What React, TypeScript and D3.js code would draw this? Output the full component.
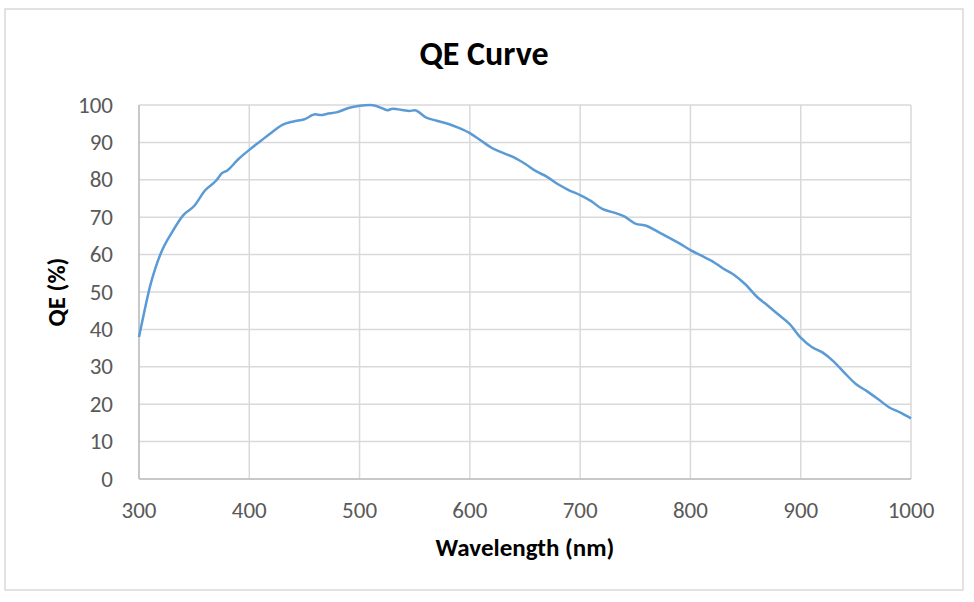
import React from "react";
import * as d3 from "d3";

const wavelengths = [300,305,310,315,320,330,340,350,360,370,375,380,390,400,410,420,430,440,450,460,465,470,480,490,500,510,520,525,530,540,545,550,560,570,580,590,600,610,620,630,640,650,660,670,680,690,700,710,720,730,740,750,760,770,780,790,800,810,820,830,840,850,860,870,880,890,900,910,920,930,940,950,960,970,980,990,1000];
const qeValues = [38.0,45,51.5,56.5,60.5,66,70.5,73,77.2,79.8,81.7,82.5,85.5,88,90.3,92.6,94.7,95.6,96.2,97.5,97.3,97.6,98.1,99.2,99.8,100,99.2,98.6,99.0,98.6,98.4,98.6,96.7,95.8,95.0,93.9,92.5,90.5,88.5,87.2,86.0,84.3,82.3,80.8,78.8,77.2,75.9,74.3,72.2,71.3,70.2,68.3,67.7,66.2,64.6,63.0,61.2,59.7,58.2,56.2,54.5,52.0,48.8,46.4,43.9,41.4,37.8,35.3,33.8,31.4,28.3,25.4,23.5,21.4,19.2,17.8,16.2];
const xTicks = [300,400,500,600,700,800,900,1000];
const yTicks = [0,10,20,30,40,50,60,70,80,90,100];

export default function App() {
  const W = 974, H = 602;
  const left = 139, right = 911, top = 105, bottom = 479;
  const x = d3.scaleLinear().domain([300, 1000]).range([left, right]);
  const y = d3.scaleLinear().domain([0, 100]).range([bottom, top]);
  const pts: [number, number][] = wavelengths.map((w, i) => [w, qeValues[i]]);
  const line = d3.line<[number, number]>().x(d => x(d[0])).y(d => y(d[1])).curve(d3.curveMonotoneX);
  const font = "Calibri, Carlito, 'Open Sans', sans-serif";
  return (
    <svg width={W} height={H} style={{ position: "absolute", left: 0, top: 0, background: "#fff" }} fontFamily={font}>
      <rect x={5} y={9} width={958} height={581} fill="#fff" stroke="#d9d9d9" strokeWidth={1.5} />
      <text x={484} y={65} textAnchor="middle" fontSize={34} fontWeight="bold" fill="#000">QE Curve</text>
      {yTicks.map(t => (
        <line key={"gy" + t} x1={left} x2={right} y1={y(t)} y2={y(t)} stroke="#d9d9d9" strokeWidth={1.5} />
      ))}
      {xTicks.map(t => (
        <line key={"gx" + t} x1={x(t)} x2={x(t)} y1={top} y2={bottom} stroke="#d9d9d9" strokeWidth={1.5} />
      ))}
      <line x1={left} x2={left} y1={top} y2={bottom} stroke="#bfbfbf" strokeWidth={1.5} />
      <line x1={left} x2={right} y1={bottom} y2={bottom} stroke="#bfbfbf" strokeWidth={1.5} />
      {yTicks.map(t => (
        <text key={"ty" + t} x={113} y={y(t) + 7.5} textAnchor="end" fontSize={23} fill="#595959">{t}</text>
      ))}
      {xTicks.map(t => (
        <text key={"tx" + t} x={x(t)} y={518} textAnchor="middle" fontSize={23} fill="#595959">{t}</text>
      ))}
      <path d={line(pts) || ""} fill="none" stroke="#5b9bd5" strokeWidth={2.5} strokeLinejoin="round" />
      <text x={525} y={556} textAnchor="middle" fontSize={25} fontWeight="bold" fill="#000">Wavelength (nm)</text>
      <text transform={`translate(65,292) rotate(-90)`} textAnchor="middle" fontSize={25} fontWeight="bold" fill="#000">QE (%)</text>
    </svg>
  );
}
